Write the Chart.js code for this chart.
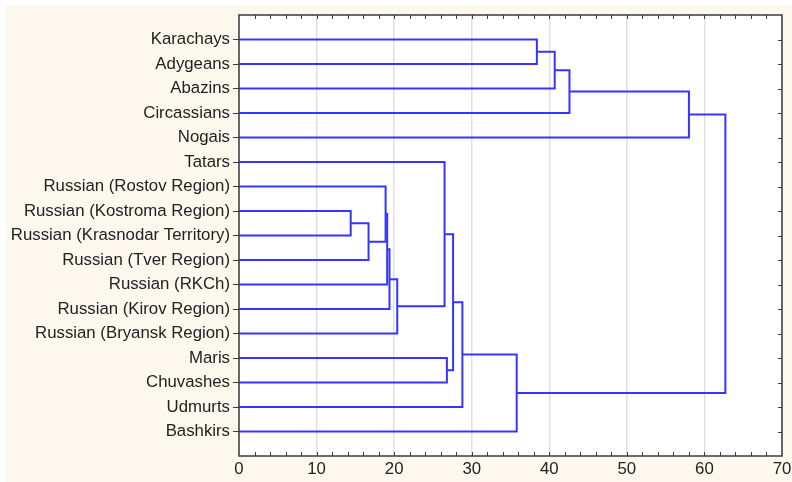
<!DOCTYPE html>
<html>
<head>
<meta charset="utf-8">
<script src="https://cdn.jsdelivr.net/npm/chart.js@4"></script>
<style>
  html, body { margin: 0; padding: 0; background: #fff; }
  #wrap { width: 792px; height: 482px; }
</style>
</head>
<body>
<div id="wrap"><canvas id="tree" width="792" height="482"></canvas></div>
<script>
// ── DATA ──
const leafLabels = [
  'Karachays', 'Adygeans', 'Abazins', 'Circassians', 'Nogais', 'Tatars',
  'Russian (Rostov Region)', 'Russian (Kostroma Region)', 'Russian (Krasnodar Territory)',
  'Russian (Tver Region)', 'Russian (RKCh)', 'Russian (Kirov Region)', 'Russian (Bryansk Region)',
  'Maris', 'Chuvashes', 'Udmurts', 'Bashkirs'
];
// merges: node ids 0..16 are leaves, each merge creates node 17, 18, ...
const mergeLeft   = [0, 17, 18, 19, 7, 21, 6, 23, 24, 25, 5, 13, 27, 29, 30, 20];
const mergeRight  = [1, 2, 3, 4, 8, 9, 22, 10, 11, 12, 26, 14, 28, 15, 16, 31];
const mergeHeight = [38.4, 40.7, 42.6, 58.0, 14.4, 16.7, 18.9, 19.1, 19.4, 20.4, 26.5, 26.8, 27.6, 28.8, 35.8, 62.7];
const xTicks = [0, 10, 20, 30, 40, 50, 60, 70];

// ── BUILD LINKS ──
const nodeX = leafLabels.map(() => 0);
const nodeY = leafLabels.map((_, i) => i);
const links = [];
mergeHeight.forEach((h, i) => {
  const a = mergeLeft[i], b = mergeRight[i];
  links.push([
    { x: nodeX[a], y: nodeY[a] }, { x: h, y: nodeY[a] },
    { x: h, y: nodeY[b] }, { x: nodeX[b], y: nodeY[b] }
  ]);
  nodeX.push(h);
  nodeY.push((nodeY[a] + nodeY[b]) / 2);
});

const LINE = '#3535ff';
const FRAME = '#3c3c3c';
const FONT = { family: 'Liberation Sans, Arial', size: 16.8 };

const framePlugin = {
  id: 'frame',
  beforeDraw(chart) {
    const c = chart.ctx;
    c.save();
    c.fillStyle = '#fff';
    c.fillRect(0, 0, chart.width, chart.height);
    c.fillStyle = '#fdf8ee';
    c.fillRect(6, 5, chart.width - 6, chart.height - 5);
    const a = chart.chartArea;
    c.fillStyle = '#fff';
    c.fillRect(a.left, a.top, a.right - a.left, a.bottom - a.top);
    c.restore();
  },
  afterDraw(chart) {
    const c = chart.ctx, a = chart.chartArea;
    const xs = chart.scales.x, ys = chart.scales.y;
    c.save();
    c.strokeStyle = FRAME;
    c.lineWidth = 1.5;
    c.strokeRect(a.left, a.top, a.right - a.left, a.bottom - a.top);
    c.lineWidth = 1;
    c.beginPath();
    for (let v = 2; v < 70; v += 2) {
      const px = Math.round(xs.getPixelForValue(v)) + 0.5;
      c.moveTo(px, a.bottom); c.lineTo(px, a.bottom - 4);
      c.moveTo(px, a.top); c.lineTo(px, a.top + 4);
    }
    leafLabels.forEach((_, i) => {
      const py = Math.round(ys.getPixelForValue(i)) + 0.5;
      c.moveTo(a.right, py); c.lineTo(a.right - 4, py);
    });
    c.stroke();
    c.restore();
  }
};

new Chart(document.getElementById('tree'), {
  type: 'scatter',
  data: {
    datasets: links.map(pts => ({
      data: pts,
      showLine: true,
      borderColor: LINE,
      borderWidth: 2,
      pointRadius: 0,
      tension: 0,
    })),
  },
  options: {
    responsive: false,
    animation: false,
    layout: { padding: { top: 15, right: 10, left: 0, bottom: 0 } },
    plugins: { legend: { display: false }, tooltip: { enabled: false } },
    scales: {
      x: {
        type: 'linear', min: 0, max: 70,
        afterBuildTicks: s => { s.ticks = xTicks.map(v => ({ value: v })); },
        grid: { color: '#e0e0e0', lineWidth: 1.5, drawTicks: false },
        border: { display: false },
        ticks: { color: '#222', padding: 3, font: FONT },
        afterFit: s => { s.height = 26; s.paddingRight = 0; },
      },
      y: {
        type: 'linear', min: -1, max: 17, reverse: true,
        afterBuildTicks: s => { s.ticks = leafLabels.map((_, i) => ({ value: i })); },
        grid: { drawOnChartArea: false, drawTicks: true, tickLength: 6, color: FRAME },
        border: { display: false },
        ticks: {
          color: '#222', padding: 3, autoSkip: false,
          font: FONT,
          callback: v => leafLabels[v] || '',
        },
        afterFit: s => { s.width = 239; s.paddingTop = 0; s.paddingBottom = 0; },
      },
    },
  },
  plugins: [framePlugin],
});
</script>
</body>
</html>
